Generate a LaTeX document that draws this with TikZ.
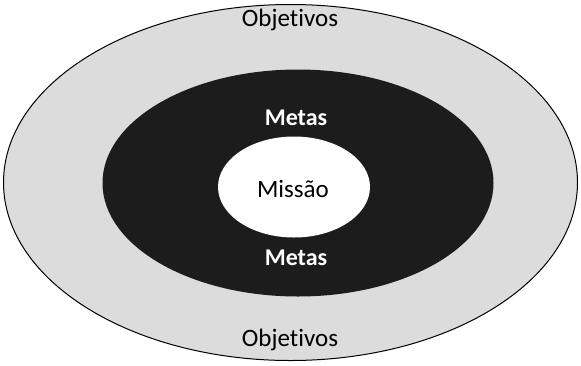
\documentclass[tikz,border=0pt]{standalone}
\usepackage{fontspec}
\setmainfont{Carlito}[Ligatures={NoCommon}]
\usetikzlibrary{shapes.geometric}
\definecolor{ringgray}{HTML}{DCDCDC}
\definecolor{darkring}{HTML}{1C1C1C}
\tikzset{
  lbl/.style={font=\fontsize{25}{28}\selectfont, text=black},
  metas/.style={font=\fontsize{24}{28}\selectfont\bfseries, text=white},
}
\begin{document}
\begin{tikzpicture}[x=1pt,y=-1pt]
\useasboundingbox (0,0) rectangle (581,365);
\fill[white] (0,0) rectangle (581,365);
\node[ellipse, draw=black, line width=1pt, fill=ringgray, minimum width=574pt, minimum height=356pt, inner sep=0pt] (outer) at (290.5,182.5) {};
\node[ellipse, fill=darkring, minimum width=391pt, minimum height=227pt, inner sep=0pt] (mid) at (298,183) {};
\node[ellipse, fill=white, minimum width=152pt, minimum height=101pt, inner sep=0pt] (inner) at (294,187) {};
\node[lbl] (obj1) at (290,20) {Objetivos};
\node[lbl] (obj2) at (290,340) {Objetivos};
\node[metas] (met1) at (296,118) {Metas};
\node[metas] (met2) at (296,258) {Metas};
\node[lbl] (mis) at (293,189) {Missão};
\end{tikzpicture}
\end{document}
